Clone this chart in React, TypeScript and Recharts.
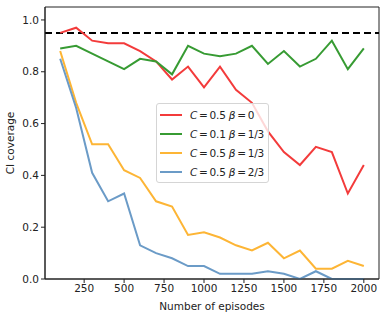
import React from 'react'
import { LineChart, Line, XAxis, YAxis, ReferenceLine, ReferenceArea, Legend } from 'recharts'

// episodes on the x axis
const episodes = [100, 200, 300, 400, 500, 600, 700, 800, 900, 1000, 1100, 1200, 1300, 1400, 1500, 1600, 1700, 1800, 1900, 2000]

// CI coverage per configuration
const c05b0 = [0.95, 0.97, 0.92, 0.91, 0.91, 0.88, 0.84, 0.77, 0.82, 0.74, 0.82, 0.73, 0.68, 0.57, 0.49, 0.44, 0.51, 0.49, 0.33, 0.44]
const c01b13 = [0.89, 0.9, 0.87, 0.84, 0.81, 0.85, 0.84, 0.79, 0.9, 0.87, 0.86, 0.87, 0.9, 0.83, 0.88, 0.82, 0.85, 0.92, 0.81, 0.89]
const c05b13 = [0.88, 0.68, 0.52, 0.52, 0.42, 0.39, 0.3, 0.28, 0.17, 0.18, 0.16, 0.13, 0.11, 0.14, 0.08, 0.11, 0.04, 0.04, 0.07, 0.05]
const c05b23 = [0.85, 0.66, 0.41, 0.3, 0.33, 0.13, 0.1, 0.08, 0.05, 0.05, 0.02, 0.02, 0.02, 0.03, 0.02, 0, 0.03, 0, 0, 0]

const xTicks = [250, 500, 750, 1000, 1250, 1500, 1750, 2000]
const yTicks = [0, 0.2, 0.4, 0.6, 0.8, 1.0]
const target = 0.95

const series = [
  { key: 'c05b0', color: '#f33b3b', C: '0.5', beta: '0' },
  { key: 'c01b13', color: '#379b33', C: '0.1', beta: '1/3' },
  { key: 'c05b13', color: '#fdb535', C: '0.5', beta: '1/3' },
  { key: 'c05b23', color: '#6b9bc7', C: '0.5', beta: '2/3' },
]

const data = episodes.map((ep, i) => ({
  ep,
  c05b0: c05b0[i],
  c01b13: c01b13[i],
  c05b13: c05b13[i],
  c05b23: c05b23[i],
}))

const font = '"DejaVu Sans", sans-serif'

const LegendBox = () => (
  <div
    style={{
      background: 'rgba(255,255,255,0.8)',
      border: '1px solid #d5d5d5',
      borderRadius: 3,
      padding: '1px 4px 1px 3px',
      fontFamily: font,
      fontSize: 10.5,
      color: '#222',
    }}
  >
    {series.map(s => (
      <div key={s.key} style={{ display: 'flex', alignItems: 'center', height: 19 }}>
        <div style={{ width: 22, height: 2, background: s.color, marginRight: 8 }}></div>
        <span style={{ letterSpacing: -0.2 }}>
          <i>C</i>{'\u2009=\u2009'}{s.C} <i>β</i>{'\u2009=\u2009'}{s.beta}
        </span>
      </div>
    ))}
  </div>
)

export default function App() {
  return (
    <div style={{ position: 'absolute', left: 0, top: 0, background: '#fff' }}>
      <LineChart width={386} height={317} data={data} margin={{ top: 7, right: 7, left: 0, bottom: 0 }}>
        <XAxis
          dataKey="ep"
          type="number"
          domain={[5, 2095]}
          ticks={xTicks}
          tick={{ fontSize: 10.5, fill: '#222', fontFamily: font }}
          tickSize={4}
          stroke="#222"
          height={38}
          label={{ value: 'Number of episodes', position: 'insideBottom', offset: 7, fontSize: 10.5, fill: '#222', fontFamily: font }}
        />
        <YAxis
          type="number"
          domain={[0, 1.05]}
          ticks={yTicks}
          tickFormatter={(v: number) => v.toFixed(1)}
          tick={{ fontSize: 10.5, fill: '#222', fontFamily: font }}
          tickSize={4}
          stroke="#222"
          width={45}
          label={{ value: 'CI coverage', angle: -90, position: 'center', dx: -12, fontSize: 10.5, fill: '#222', fontFamily: font }}
        />
        <ReferenceArea x1={5} x2={2095} y1={0} y2={1.05} fill="none" stroke="#222" strokeWidth={1} />
        <ReferenceLine y={target} stroke="#000" strokeWidth={2} strokeDasharray="7 4" />
        {series.map(s => (
          <Line
            key={s.key}
            dataKey={s.key}
            stroke={s.color}
            strokeWidth={2}
            dot={false}
            isAnimationActive={false}
          />
        ))}
        <Legend
          content={<LegendBox />}
          layout="vertical"
          align="center"
          verticalAlign="middle"
          wrapperStyle={{ left: 156, top: 103, width: 'auto' }}
        />
      </LineChart>
    </div>
  )
}
